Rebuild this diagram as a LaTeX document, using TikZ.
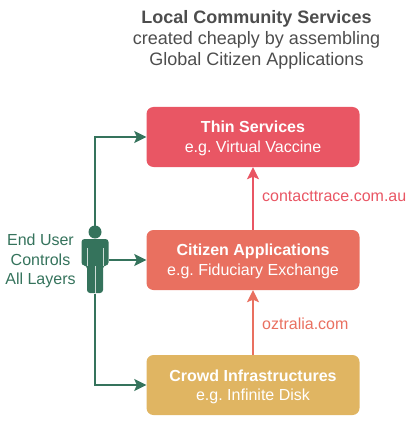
\documentclass[tikz,border=0pt]{standalone}
\usepackage{fontspec}
\setmainfont{Liberation Sans}
\usetikzlibrary{arrows.meta,calc}
\definecolor{UserGreen}{HTML}{35735C}
\definecolor{ThinRed}{HTML}{E95664}
\definecolor{CitizenCoral}{HTML}{E97060}
\definecolor{CrowdGold}{HTML}{E0B562}
\definecolor{TitleGrey}{HTML}{4D4D4D}
\frenchspacing
\tikzset{
  layerbox/.style={rounded corners=7pt,minimum width=213pt,minimum height=60pt,inner sep=0pt,text depth=0pt,
    text=white,align=center,font=\fontsize{16}{19.6}\selectfont},
  linklabel/.style={anchor=west,inner sep=0pt,font=\fontsize{16}{19}\selectfont},
  control/.style={UserGreen,line width=2pt,-{Stealth[length=12pt,width=12pt,inset=2.5pt]}},
  uplink/.style={line width=2pt,-{Stealth[length=12pt,width=12pt,inset=2.5pt]}}
}

\begin{document}
\begin{tikzpicture}[x=1pt,y=-1pt]
  \useasboundingbox (0,0) rectangle (410,422);
  \node[align=center,text=TitleGrey,font=\fontsize{18}{21}\selectfont] (title) at (256.5,39.5)
    {\textbf{Local Community Services}\\created cheaply by assembling\\Global Citizen Applications};
  % layers
  \node[layerbox,fill=ThinRed] (thin) at (253,137) {\textbf{Thin Services}\\e.g. Virtual Vaccine};
  \node[layerbox,fill=CitizenCoral] (citizen) at (253,260) {\textbf{Citizen Applications}\\e.g. Fiduciary Exchange};
  \node[layerbox,fill=CrowdGold] (crowd) at (253,385) {\textbf{Crowd Infrastructures}\\e.g. Infinite Disk};
  \draw[uplink,ThinRed] (citizen) -- (thin);
  \draw[uplink,CitizenCoral] (crowd) -- (citizen);
  \node[linklabel,text=ThinRed] (trace) at (262,196) {contacttrace.com.au};
  \node[linklabel,text=CitizenCoral] (oztralia) at (262,324) {oztralia.com};
  % end user
  \node[minimum width=27pt,minimum height=68pt,inner sep=0pt] (user) at (95,260) {};
  \fill[UserGreen] (95,232) circle (6.5pt);
  \fill[UserGreen,rounded corners=3pt] (81.5,265.5) -- (81.5,239) -- (108.5,239) -- (108.5,265.5) -- (103,265.5)
    -- (103,293) -- (87,293) -- (87,265.5) -- cycle;
  \draw[white!75!UserGreen,line width=0.7pt] (87,248) -- (87,265.5) (103,248) -- (103,265.5) (95,266) -- (95,293);
  \node[align=center,text=UserGreen,font=\fontsize{16}{19.5}\selectfont] (endlabel) at (40.5,261) {End User\\Controls\\All Layers};
  \draw[control] (user.north) |- (thin.west);
  \draw[control] (user.east) -- (citizen.west);
  \draw[control] (user.south) |- (crowd.west);
\end{tikzpicture}
\end{document}
